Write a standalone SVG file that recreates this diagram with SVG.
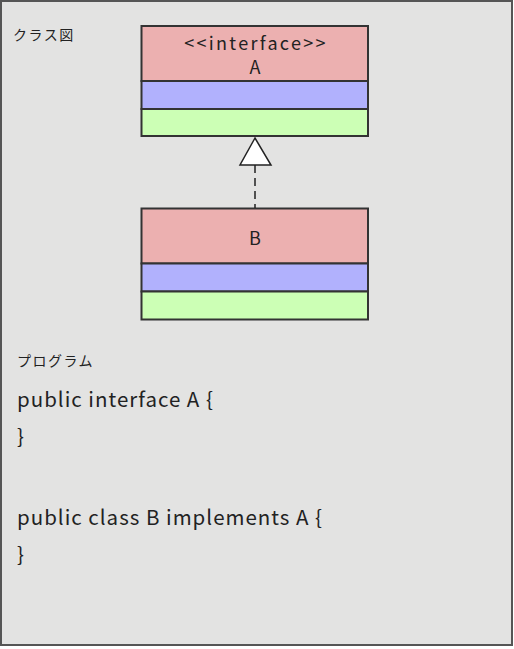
<svg xmlns="http://www.w3.org/2000/svg" width="514" height="649" viewBox="0 0 514 649">
<style>
.t{font-family:"Noto Sans CJK JP","Noto Sans",sans-serif;fill:#222}
.jp{font-size:14px;letter-spacing:1.5px}
.lbl{font-size:18px;letter-spacing:2.3px}
.code{font-size:20.5px;letter-spacing:1px}
.nm{fill:#ecb0b0;stroke:#333;stroke-width:2}
.at{fill:#b1b1fd;stroke:#333;stroke-width:2}
.op{fill:#ccffb5;stroke:#333;stroke-width:2}
</style>
<rect x="1" y="1" width="511" height="644" fill="#e3e3e2" stroke="#555" stroke-width="2"/>
<text class="t jp" x="13" y="40">クラス図</text>
<g id="A">
<rect class="nm" x="141.5" y="26" width="226.5" height="55"/>
<rect class="at" x="141.5" y="81" width="226.5" height="28"/>
<rect class="op" x="141.5" y="109" width="226.5" height="27"/>
<text class="t lbl" x="256" y="50" text-anchor="middle">&lt;&lt;interface&gt;&gt;</text>
<text class="t" x="255" y="74" font-size="18" text-anchor="middle">A</text>
</g>
<g id="B">
<rect class="nm" x="141.5" y="208.5" width="226.5" height="55"/>
<rect class="at" x="141.5" y="263.5" width="226.5" height="28"/>
<rect class="op" x="141.5" y="291.5" width="226.5" height="28"/>
<text class="t" x="255" y="245" font-size="18" text-anchor="middle">B</text>
</g>
<g id="connectors">
<line x1="255" y1="165" x2="255" y2="208" stroke="#222" stroke-width="1.5" stroke-dasharray="8,5"/>
<polygon points="255,138 240,165 271,165" fill="#fff" stroke="#222" stroke-width="1.5"/>
</g>
<text class="t jp" x="17" y="366">プログラム</text>
<text class="t code" x="17" y="407">public interface A {</text>
<text class="t code" x="17" y="444">}</text>
<text class="t code" x="17" y="525">public class B implements A {</text>
<text class="t code" x="17" y="562">}</text>
</svg>
